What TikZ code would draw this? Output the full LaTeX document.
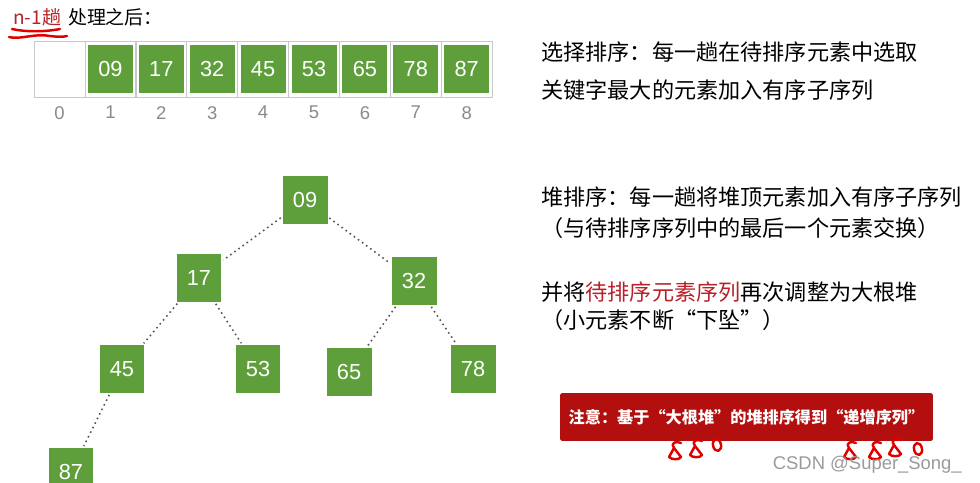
\documentclass[tikz,border=0pt]{standalone}
\usepackage{fontspec}
\setmainfont{Liberation Sans}
\newfontfamily\cjk{Noto Sans CJK SC}
\usetikzlibrary{positioning}
\definecolor{heapgreen}{HTML}{5E9F3C}
\definecolor{notered}{HTML}{B30F0F}
\definecolor{hintred}{HTML}{B8202A}
\definecolor{penred}{HTML}{E00000}
\definecolor{cellgray}{HTML}{C8C8C8}
\definecolor{idxgray}{HTML}{8A8A8A}
\definecolor{edgegray}{HTML}{555555}
\definecolor{wmgray}{HTML}{9A9A9A}

\tikzset{
  key/.style={fill=heapgreen, text=white, minimum width=0.9cm, minimum height=0.96cm,
    inner sep=0pt, font=\fontsize{12.4}{14}\selectfont},
  slot/.style={draw=cellgray, fill=white, minimum width=1.018cm, minimum height=1.12cm, inner sep=0pt},
  idx/.style={text=idxgray, font=\fontsize{10.5}{12}\selectfont},
  link/.style={draw=edgegray, line width=0.9pt, dotted, shorten <=1pt, shorten >=1pt},
  note/.style={anchor=west, inner sep=0pt, font=\cjk\fontsize{12.6}{15}\selectfont},
  pen/.style={draw=penred, line width=1.4pt, line cap=round, line join=round},
  penloop/.pic={\draw[pen] (6,-8) .. controls (2,-10) and (-5,-9) .. (-1,-3)
    -- (-6,6) .. controls (-3,9) and (4,9) .. (6,6) -- (-1,-3);},
  penring/.pic={\draw[pen, rotate=12] (0,0) ellipse [x radius=4, y radius=6];}
}

\begin{document}
\begin{tikzpicture}[x=0.02cm, y=-0.02cm]
  % page = 980 x 483 px, one unit = one pixel
  \useasboundingbox (0,0) rectangle (980,483);

  % title with hand-drawn underline
  \node[anchor=west, inner sep=0pt, font=\cjk\fontsize{10.8}{12}\selectfont] (title) at (13,17)
    {\textcolor{hintred}{n-1趟}\hspace{4pt}处理之后：};
  \draw[pen] (12,29) .. controls (25,32) and (45,32) .. (60,29);
  \draw[pen] (9,37) .. controls (20,40) and (35,33) .. (50,36) .. controls (58,37) and (63,37) .. (67,36);

  % array after n-1 passes
  \foreach \i in {0,...,8}
    \node[slot] (s\i) at (59.5+50.9*\i,69) {};
  \foreach \v [count=\i] in {09,17,32,45,53,65,78,87}
    \node[key] (a\i) at (s\i) {\v};
  \foreach \i in {0,...,8}
    \node[idx, below=1.5pt of s\i] (i\i) {\i};

  % heap as a tree
  \node[key] (n09) at (305,200) {09};
  \node[key] (n17) at (199,278) {17};
  \node[key] (n32) at (414,281) {32};
  \node[key] (n45) at (122,369) {45};
  \node[key] (n53) at (258,369) {53};
  \node[key] (n65) at (349,372) {65};
  \node[key] (n78) at (473,369) {78};
  \node[key] (n87) at (71,472) {87};
  \draw[link] (n09) -- (n17);
  \draw[link] (n09) -- (n32);
  \draw[link] (n17) -- (n45);
  \draw[link] (n17) -- (n53);
  \draw[link] (n32) -- (n65);
  \draw[link] (n32) -- (n78);
  \draw[link] (n45) -- (n87);

  % notes on the right
  \node[note] (sel1) at (541,52) {选择排序：每一趟在待排序元素中选取};
  \node[note] (sel2) at (541,90) {关键字最大的元素加入有序子序列};
  \node[note] (heap1) at (541,197) {堆排序：每一趟将堆顶元素加入有序子序列};
  \node[note] (heap2) at (541,228) {（与待排序序列中的最后一个元素交换）};
  \node[note] (heap3) at (541,292) {并将\textcolor{hintred}{待排序元素序列}再次调整为大根堆};
  \node[note] (heap4) at (541,320) {（小元素不断“下坠”）};

  \node[fill=notered, rounded corners=1pt, minimum width=7.46cm, minimum height=0.96cm,
    inner sep=2pt, text=white, font=\cjk\bfseries\fontsize{9.2}{12}\selectfont] (warn) at (746.5,417)
    {注意：基于“大根堆”的堆排序得到“递增序列”};

  % pen marks under the box
  \foreach \x/\y in {675/451, 696/449, 850/451, 875/451, 895/448}
    \pic at (\x,\y) {penloop};
  \foreach \x/\y in {717/445, 918/449}
    \pic at (\x,\y) {penring};

  \node[anchor=east, text=wmgray, font=\fontsize{10.5}{12}\selectfont] (wm) at (968,465)
    {CSDN @Super\_Song\_};
\end{tikzpicture}
\end{document}
